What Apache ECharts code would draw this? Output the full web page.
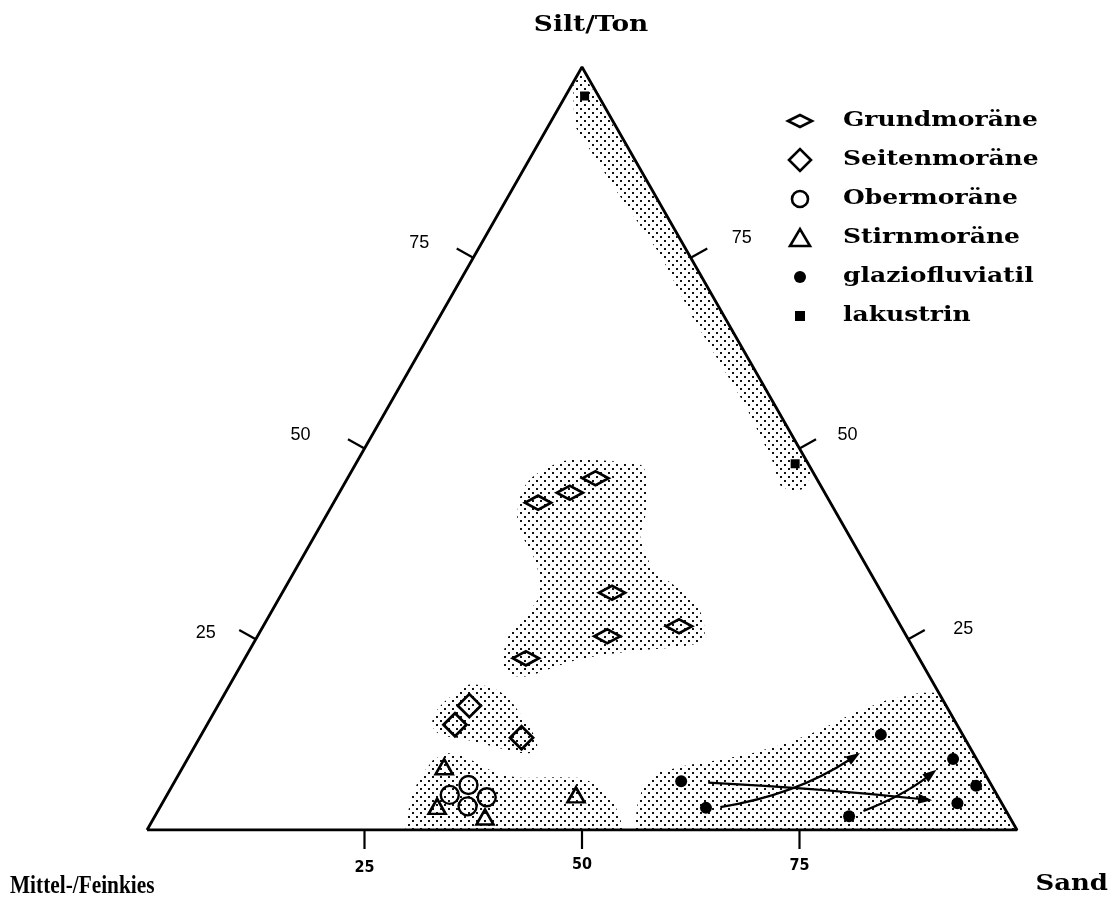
<!DOCTYPE html>
<html>
<head>
<meta charset="utf-8">
<script src="https://cdn.jsdelivr.net/npm/echarts@6/dist/echarts.min.js"></script>
<style>
  html, body { margin: 0; padding: 0; background: #fff; }
  #chart { width: 1114px; height: 906px; }
</style>
</head>
<body>
<div id="chart"></div>
<script>
// Ternary samples as [Sand %, Silt/Ton %]; Mittel-/Feinkies = 100 - Sand - Silt/Ton
const grundmoraene    = [[28.5,46.1],[26.5,44.2],[23.5,42.9],[37.9,31.1],[47.8,26.7],[40.2,25.4],[32.3,22.5]];
const seitenmoraene   = [[28.9,16.3],[28.5,13.8],[37.0,12.1]];
const obermoraene     = [[32.5,4.6],[34.0,5.9],[36.9,4.3],[35.3,3.1]];
const stirnmoraene    = [[30.0,8.3],[31.8,3.1],[38.0,1.7],[47.0,4.6]];
const glaziofluviatil = [[58.2,6.4],[62.8,2.9],[78.1,12.5],[88.0,9.3],[92.4,5.8],[91.4,3.5],[79.8,1.8]];
const lakustrin       = [[2.2,96.2],[50.5,48.0]];

// trend arrows in the glaziofluviatil field: [sand0, silt0, sand1, silt1]
const trends = [[64.4,3.0,76.9,10.1],[61.4,6.2,88.3,3.9],[81.1,2.5,86.8,7.9]];

// envelopes of each deposit type, [Sand, Silt/Ton]
const envLakustrin = [[0.3,99.4],[52.8,47.2],[53.3,44.8],[52.0,44.3],[50.1,45.2],[47.6,48.5],[40.9,55.7],[29.1,67.2],[21.3,75.4],[11.9,83.9],[2.9,92.4],[0.2,97.6]];
const envGrund = [[23.1,48.1],[24.4,48.5],[26.7,48.5],[30.6,48.2],[33.2,47.6],[35.4,44.2],[36.9,40.6],[37.5,38.4],[39.6,35.8],[41.1,34.1],[45.5,31.5],[49.1,28.8],[51.2,25.8],[51.2,24.6],[48.9,24.0],[45.2,23.6],[42.4,23.2],[38.3,22.3],[35.5,21.0],[33.2,20.1],[31.1,20.6],[29.6,22.7],[28.8,25.8],[29.3,27.9],[29.8,30.1],[29.2,31.8],[27.6,34.5],[25.7,36.7],[24.0,38.4],[22.3,40.6],[21.5,42.3],[20.9,44.6],[21.2,46.3],[22.3,47.4]];
const envSeiten = [[27.3,19.0],[30.1,18.7],[32.7,17.4],[35.2,15.3],[38.0,12.7],[39.4,10.9],[39.0,10.1],[37.4,10.2],[35.2,10.7],[32.6,11.4],[29.6,12.1],[27.5,12.5],[26.2,13.4],[25.5,14.8],[25.7,16.6],[26.6,18.1]];
const envMoraene = [[29.7,0],[28.3,3.9],[27.9,6.9],[28.3,9.2],[29.4,10.1],[31.4,9.8],[34.5,8.3],[37.0,7.2],[39.8,6.8],[43.7,6.9],[46.7,6.8],[49.3,5.6],[51.6,3.9],[53.5,1.7],[54.7,0]];
const envFluvial = [[56.1,0],[54.8,3.0],[54.2,5.6],[55.2,7.6],[57.8,8.5],[61.3,9.2],[64.6,10.1],[67.9,11.4],[70.8,13.1],[73.5,15.3],[76.5,17.0],[79.9,18.0],[82.0,18.0],[100,0]];

const tickValues = [25, 50, 75];
const tickLabels = ['25', '50', '75'];
const cornerLabels = ['Silt/Ton', 'Mittel-/Feinkies', 'Sand'];
const seriesNames = ['Grundmoräne', 'Seitenmoräne', 'Obermoräne', 'Stirnmoräne', 'glaziofluviatil', 'lakustrin'];

// ---- drawing helpers ----
function toXY(p) { return [p[0] + p[1] / 2, p[1]]; }

const stipple = (function () {
  const c = document.createElement('canvas');
  c.width = 8; c.height = 8;
  const g = c.getContext('2d');
  g.fillStyle = '#111';
  g.fillRect(0, 0, 2, 2);
  g.fillRect(4, 4, 2, 2);
  return c;
})();

const envelopes = [
  { pts: envLakustrin, smooth: 0 },
  { pts: envGrund, smooth: 0.35 },
  { pts: envSeiten, smooth: 0.35 },
  { pts: envMoraene, smooth: 0 },
  { pts: envFluvial, smooth: 0 }
];

// per-edge tick direction (left, right, bottom) and label offsets
const TICK_LEN = 19;
const tickDir = [[-0.87, -0.49], [0.87, -0.49], [0, 1]];
const labelOff = [
  [[-50, -6], [-64, -13], [-54, -15]],
  [[55, -10], [48, -13], [51, -20]],
  [[0, 38], [0, 35], [0, 36]]
];
const arrowBend = [16, -3, 6];

const TEXT_SERIF = '"DejaVu Serif", "Liberation Serif", serif';
const black = '#000';
const hollow = 'rgba(0,0,0,0)';

const chart = echarts.init(document.getElementById('chart'));

const legendRows = [];
const LX = 800, LY = 121, LSTEP = 39;
function legendSymbol(i, cy) {
  const s = { stroke: black, lineWidth: 2.6, fill: hollow };
  switch (i) {
    case 0: return { type: 'polygon', shape: { points: [[LX - 12, cy], [LX, cy - 6], [LX + 12, cy], [LX, cy + 6]] }, style: s };
    case 1: return { type: 'polygon', shape: { points: [[LX - 11, cy], [LX, cy - 11], [LX + 11, cy], [LX, cy + 11]] }, style: s };
    case 2: return { type: 'circle', shape: { cx: LX, cy: cy, r: 8 }, style: s };
    case 3: return { type: 'polygon', shape: { points: [[LX - 10, cy + 8], [LX, cy - 9], [LX + 10, cy + 8]] }, style: s };
    case 4: return { type: 'circle', shape: { cx: LX, cy: cy, r: 6 }, style: { fill: black } };
    default: return { type: 'rect', shape: { x: LX - 5, y: cy - 5, width: 10, height: 10 }, style: { fill: black } };
  }
}
seriesNames.forEach(function (name, i) {
  const cy = LY + i * LSTEP;
  legendRows.push(legendSymbol(i, cy));
  legendRows.push({
    type: 'text', x: 843, y: cy, scaleX: 1.25,
    style: { text: name, font: 'bold 20px ' + TEXT_SERIF, fill: black, align: 'left', verticalAlign: 'middle' }
  });
});

const option = {
  animation: false,
  backgroundColor: '#fff',
  grid: { left: 147, top: 67, width: 870, height: 763 },
  xAxis: { type: 'value', min: 0, max: 100, show: false },
  yAxis: { type: 'value', min: 0, max: 100, show: false },
  graphic: [
    { type: 'text', x: 591, y: 25, scaleX: 1.2, style: { text: cornerLabels[0], font: 'bold 22px ' + TEXT_SERIF, fill: black, align: 'center', verticalAlign: 'middle' } },
    { type: 'text', x: 10, y: 886, scaleX: 0.82, style: { text: cornerLabels[1], font: 'bold 26px "Liberation Serif", serif', fill: black, align: 'left', verticalAlign: 'middle' } },
    { type: 'text', x: 1108, y: 884, scaleX: 1.18, style: { text: cornerLabels[2], font: 'bold 22px ' + TEXT_SERIF, fill: black, align: 'right', verticalAlign: 'middle' } }
  ].concat(legendRows),
  series: [
    {
      // stippled envelopes
      type: 'custom', z: 1, silent: true,
      data: envelopes.map(function (e, i) { return toXY(e.pts[0]).concat([i]); }),
      encode: { x: 0, y: 1 },
      renderItem: function (params, api) {
        const env = envelopes[api.value(2)];
        const pts = env.pts.map(function (p) { return api.coord(toXY(p)); });
        return { type: 'polygon', shape: { points: pts, smooth: env.smooth }, style: { fill: { image: stipple, repeat: 'repeat' } } };
      }
    },
    {
      // triangle frame
      type: 'line', z: 5, silent: true, symbol: 'none',
      data: [[0, 0], [100, 0], [0, 100], [0, 0]].map(toXY),
      lineStyle: { color: black, width: 2.8 }
    },
    {
      // edge ticks and their labels
      type: 'custom', z: 5, silent: true,
      data: [0, 1, 2].flatMap(function (e) { return [0, 1, 2].map(function (k) { return [e, k]; }); }),
      encode: { x: 0, y: 1 },
      renderItem: function (params, api) {
        const e = api.value(0), k = api.value(1);
        const v = tickValues[k];
        const tern = e === 0 ? [0, v] : (e === 1 ? [100 - v, v] : [v, 0]);
        const p = api.coord(toXY(tern));
        const d = tickDir[e], o = labelOff[e][k];
        const font = e === 2 ? 'bold 16px "Liberation Sans Narrow", "DejaVu Sans Condensed", "Liberation Sans", sans-serif'
                             : '18px "Liberation Sans", Arial, sans-serif';
        return {
          type: 'group',
          children: [
            { type: 'line', shape: { x1: p[0], y1: p[1], x2: p[0] + d[0] * TICK_LEN, y2: p[1] + d[1] * TICK_LEN }, style: { stroke: black, lineWidth: 2.2 } },
            { type: 'text', x: p[0] + o[0], y: p[1] + o[1], style: { text: tickLabels[k], font: font, fill: black, align: 'center', verticalAlign: 'middle' } }
          ]
        };
      }
    },
    {
      // trend arrows
      type: 'custom', z: 6, silent: true,
      data: trends,
      encode: { x: 0, y: 1 },
      renderItem: function (params, api) {
        const i = params.dataIndex;
        const p0 = api.coord(toXY([api.value(0), api.value(1)]));
        const p1 = api.coord(toXY([api.value(2), api.value(3)]));
        const dx = p1[0] - p0[0], dy = p1[1] - p0[1], L = Math.hypot(dx, dy);
        const nx = -dy / L, ny = dx / L;
        const cx = (p0[0] + p1[0]) / 2 + nx * arrowBend[i];
        const cy = (p0[1] + p1[1]) / 2 + ny * arrowBend[i];
        let tx = p1[0] - cx, ty = p1[1] - cy;
        const tl = Math.hypot(tx, ty); tx /= tl; ty /= tl;
        const hl = 14, hw = 5;
        const bx = p1[0] - tx * hl, by = p1[1] - ty * hl;
        return {
          type: 'group',
          children: [
            { type: 'bezierCurve', shape: { x1: p0[0], y1: p0[1], x2: bx + tx * 2, y2: by + ty * 2, cpx1: cx, cpy1: cy }, style: { stroke: black, lineWidth: 2.2, fill: null } },
            { type: 'polygon', shape: { points: [[p1[0], p1[1]], [bx - ty * hw, by + tx * hw], [bx + ty * hw, by - tx * hw]] }, style: { fill: black } }
          ]
        };
      }
    },
    { name: seriesNames[0], type: 'scatter', z: 7, data: grundmoraene.map(toXY), symbol: 'path://M0,7L13,0L26,7L13,14Z', symbolSize: [26, 14], itemStyle: { color: hollow, borderColor: black, borderWidth: 3, opacity: 1 } },
    { name: seriesNames[1], type: 'scatter', z: 7, data: seitenmoraene.map(toXY), symbol: 'path://M10,0L20,10L10,20L0,10Z', symbolSize: 23, itemStyle: { color: hollow, borderColor: black, borderWidth: 2.8, opacity: 1 } },
    { name: seriesNames[2], type: 'scatter', z: 7, data: obermoraene.map(toXY), symbol: 'circle', symbolSize: 18, itemStyle: { color: hollow, borderColor: black, borderWidth: 2.4, opacity: 1 } },
    { name: seriesNames[3], type: 'scatter', z: 7, data: stirnmoraene.map(toXY), symbol: 'triangle', symbolSize: [17, 15], itemStyle: { color: hollow, borderColor: black, borderWidth: 2.6, opacity: 1 } },
    { name: seriesNames[4], type: 'scatter', z: 7, data: glaziofluviatil.map(toXY), symbol: 'circle', symbolSize: 12, itemStyle: { color: black, opacity: 1 } },
    { name: seriesNames[5], type: 'scatter', z: 7, data: lakustrin.map(toXY), symbol: 'rect', symbolSize: 9, itemStyle: { color: black, opacity: 1 } }
  ]
};

chart.setOption(option);
</script>
</body>
</html>
